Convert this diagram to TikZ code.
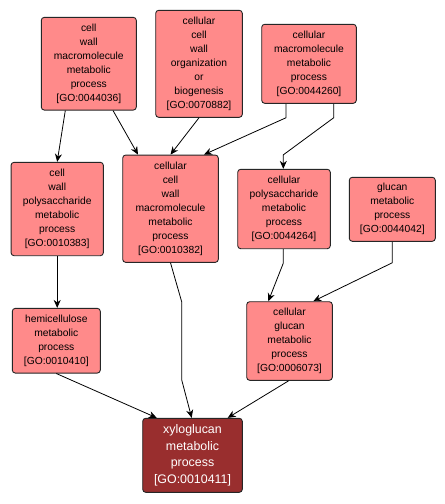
\documentclass[tikz,border=0pt]{standalone}
\usepackage{fontspec}
\setmainfont{Liberation Sans}
\usetikzlibrary{arrows.meta}
\definecolor{lightgo}{HTML}{FF8A8A}
\definecolor{darkgo}{HTML}{992E2E}
\begin{document}
\begin{tikzpicture}[x=1pt,y=-1pt,
  gobox/.style={draw=black!85, line width=0.9pt, rounded corners=3pt, fill=lightgo, align=center,
    inner sep=0pt, font=\fontsize{10.3}{14}\selectfont},
  gomain/.style={gobox, fill=darkgo, text=white, font=\fontsize{12.4}{16.5}\selectfont},
  edge/.style={line width=0.8pt, -{Stealth[length=8pt,width=7pt]}}]
\useasboundingbox (0,0) rectangle (445,504);
\fill[white] (0,0) rectangle (445,504);

\node[gobox, minimum width=95pt, minimum height=92.7pt] (A) at (88.8,63.7)
  {cell\\wall\\macromolecule\\metabolic\\process\\{[GO:0044036]}};
\node[gobox, minimum width=86.6pt, minimum height=107pt] (B) at (199,63.8)
  {cellular\\cell\\wall\\organization\\or\\biogenesis\\{[GO:0070882]}};
\node[gobox, minimum width=94.6pt, minimum height=79pt] (C) at (309,63.8)
  {cellular\\macromolecule\\metabolic\\process\\{[GO:0044260]}};
\node[gobox, minimum width=92.3pt, minimum height=93.4pt] (D) at (57.2,209)
  {cell\\wall\\polysaccharide\\metabolic\\process\\{[GO:0010383]}};
\node[gobox, minimum width=95.6pt, minimum height=107.3pt] (E) at (170.5,208.7)
  {cellular\\cell\\wall\\macromolecule\\metabolic\\process\\{[GO:0010382]}};
\node[gobox, minimum width=92.6pt, minimum height=79.4pt] (F) at (284,209)
  {cellular\\polysaccharide\\metabolic\\process\\{[GO:0044264]}};
\node[gobox, minimum width=86pt, minimum height=64pt] (G) at (392.3,209.3)
  {glucan\\metabolic\\process\\{[GO:0044042]}};
\node[gobox, minimum width=88pt, minimum height=64.7pt] (H) at (56.3,340.7)
  {hemicellulose\\metabolic\\process\\{[GO:0010410]}};
\node[gobox, minimum width=85.6pt, minimum height=78.6pt] (I) at (289.5,341)
  {cellular\\glucan\\metabolic\\process\\{[GO:0006073]}};
\node[gomain, minimum width=99.6pt, minimum height=74pt] (J) at (192.5,455.3)
  {xyloglucan\\metabolic\\process\\{[GO:0010411]}};

\draw[edge] ([xshift=-23.5pt]A.south) -- (D.north);
\draw[edge] ([xshift=24.2pt]A.south) -- ([xshift=-32.5pt]E.north);
\draw[edge] (B.south) -- (E.north);
\draw[edge] ([xshift=-23pt]C.south) -- ++(0,14) -- ([xshift=33.5pt]E.north);
\draw[edge] ([xshift=24.7pt]C.south) -- ++(0,14) -- ([xshift=-0.7pt,yshift=14pt]F.north) -- ([xshift=-0.7pt]F.north);
\draw[edge] (D.south) -- (D.south |- H.north);
\draw[edge] (E.south) -- ([xshift=11.2pt,yshift=-39pt]E.south) -- ([xshift=-10.8pt,yshift=38pt]J.north) -- ([xshift=-0.8pt]J.north);
\draw[edge] ([xshift=-0.7pt]F.south) -- ++(0,14) -- ([xshift=-21.2pt]I.north);
\draw[edge] (G.south) -- ++(0,21) -- ([xshift=23.8pt]I.north);
\draw[edge] (H.south) -- ([xshift=-35.8pt]J.north);
\draw[edge] ([xshift=-0.8pt]I.south) -- ([xshift=35.2pt]J.north);
\end{tikzpicture}
\end{document}
